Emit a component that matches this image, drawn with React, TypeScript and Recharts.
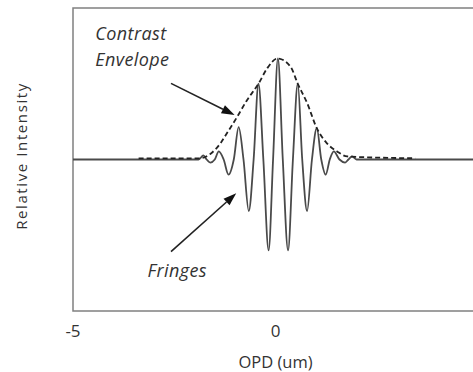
import { LineChart, Line, XAxis, YAxis, ReferenceArea, ReferenceLine, ReferenceDot } from "recharts";

// values (OPD in um, intensity in relative units)

const fringeX = [-5, -1.9, -1.78, -1.7, -1.61, -1.5, -1.4, -1.28, -1.16, -1.03, -0.91, -0.79, -0.66, -0.54, -0.42, -0.3, -0.17, -0.06, 0.06, 0.18, 0.31, 0.43, 0.55, 0.66, 0.78, 0.9, 1.02, 1.13, 1.24, 1.34, 1.44, 1.58, 1.72, 1.8, 1.89, 2.0, 5];
const fringeY = [0, 0, 0.04, 0, -0.03, 0, 0.08, 0, -0.15, 0, 0.32, 0, -0.51, 0, 0.75, 0, -0.9, 0, 1.0, 0, -0.9, 0, 0.75, 0, -0.51, 0, 0.31, 0, -0.15, 0, 0.08, 0, -0.03, 0, 0.03, 0, 0];

const envelopeX = [-3.38, -1.86, -1.61, -1.36, -1.2, -0.95, -0.7, -0.42, -0.21, 0.05, 0.37, 0.55, 0.78, 1.02, 1.27, 1.52, 1.77, 3.45];
const envelopeY = [0.012, 0.012, 0.055, 0.16, 0.26, 0.42, 0.59, 0.75, 0.9, 1.0, 0.92, 0.75, 0.56, 0.31, 0.16, 0.08, 0.03, 0.012];

const xTicks = [-5, 0, 5];

const fringeData = fringeX.map((x, i) => ({ x, y: fringeY[i] }));
const envelopeData = envelopeX.map((x, i) => ({ x, y: envelopeY[i] }));

const font = "'Open Sans', sans-serif";
const ink = "#333333";

// arrow drawn from segment start to end
function Arrow(p: any) {
  const { x1, y1, x2, y2 } = p;
  const a = Math.atan2(y2 - y1, x2 - x1);
  const len = 13;
  const hw = 4.5;
  const bx = x2 - len * Math.cos(a);
  const by = y2 - len * Math.sin(a);
  const px = -Math.sin(a) * hw;
  const py = Math.cos(a) * hw;
  return (
    <g>
      <line x1={x1} y1={y1} x2={bx} y2={by} stroke="#222" strokeWidth={1.6} />
      <polygon points={`${x2},${y2} ${bx + px},${by + py} ${bx - px},${by - py}`} fill="#111" />
    </g>
  );
}

function note(text: string) {
  return (p: any) => (
    <text x={p.cx} y={p.cy} fill={ink} fontSize={18} letterSpacing={0.4} fontStyle="italic" fontFamily={font}>
      {text}
    </text>
  );
}

export default function App() {
  return (
    <div style={{ position: "absolute", left: 0, top: 0, width: 473, height: 372, overflow: "hidden", background: "#fff" }}>
      <LineChart width={490} height={372} margin={{ top: 8, right: 12, bottom: 0, left: 0 }}>
        <XAxis
          type="number"
          dataKey="x"
          domain={[-5, 5]}
          ticks={xTicks}
          axisLine={false}
          tickLine={false}
          tickMargin={8}
          height={61}
          tick={{ fill: ink, fontSize: 17, fontFamily: font }}
          label={{ value: "OPD (um)", position: "insideBottom", offset: 4, fill: ink, fontSize: 16.5, fontFamily: font }}
        />
        <YAxis
          type="number"
          domain={[-1.5, 1.5]}
          tick={false}
          axisLine={false}
          tickLine={false}
          width={73}
          label={{
            content: () => (
              <text x={27} y={156} transform="rotate(-90, 27, 156)" textAnchor="middle" fill={ink} fontSize={15} letterSpacing={1.6} fontFamily={font}>
                Relative Intensity
              </text>
            ),
          }}
        />
        <ReferenceArea x1={-5} x2={5} y1={-1.5} y2={1.5} fill="none" stroke="#808080" strokeWidth={1.5} />
        <Line data={fringeData} dataKey="y" type="monotone" stroke="#4a4a4a" strokeWidth={1.8} dot={false} isAnimationActive={false} />
        <Line data={envelopeData} dataKey="y" type="monotone" stroke="#222" strokeWidth={1.8} strokeDasharray="5 3" dot={false} isAnimationActive={false} />
        <ReferenceLine segment={[{ x: -2.58, y: 0.754 }, { x: -1.01, y: 0.44 }]} shape={Arrow} />
        <ReferenceLine segment={[{ x: -2.58, y: -0.913 }, { x: -0.97, y: -0.335 }]} shape={Arrow} />
        <ReferenceDot x={-4.45} y={1.18} r={0} shape={note("Contrast")} />
        <ReferenceDot x={-4.45} y={0.93} r={0} shape={note("Envelope")} />
        <ReferenceDot x={-3.16} y={-1.16} r={0} shape={note("Fringes")} />
      </LineChart>
    </div>
  );
}
